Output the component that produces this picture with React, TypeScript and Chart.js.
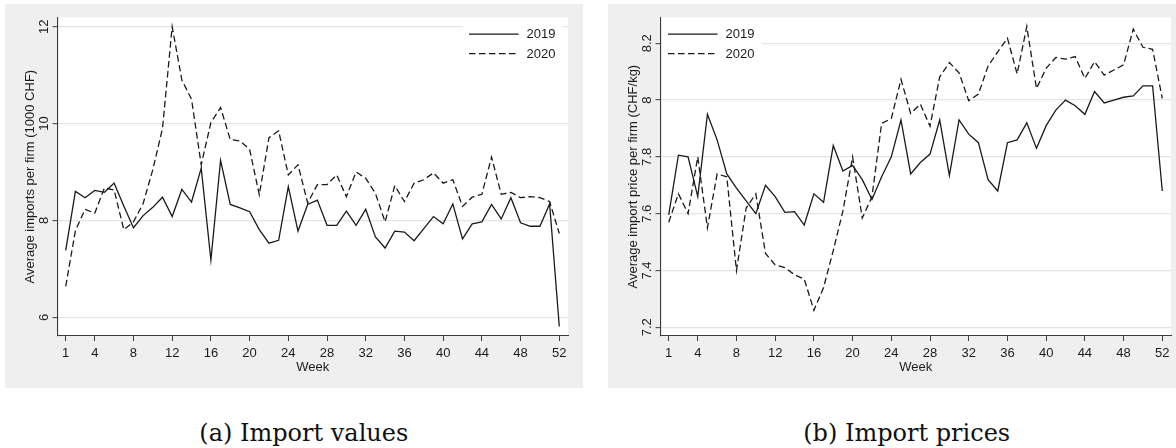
import React, { useEffect, useRef } from 'react';
import { Chart, registerables } from 'chart.js';

Chart.register(...registerables);

// ---------- data ----------
const weeks = [1, 2, 3, 4, 5, 6, 7, 8, 9, 10, 11, 12, 13, 14, 15, 16, 17, 18, 19, 20, 21, 22, 23, 24, 25, 26,
  27, 28, 29, 30, 31, 32, 33, 34, 35, 36, 37, 38, 39, 40, 41, 42, 43, 44, 45, 46, 47, 48, 49, 50, 51, 52];

const weekTicks = [1, 4, 8, 12, 16, 20, 24, 28, 32, 36, 40, 44, 48, 52];
const valueTicks = [6, 8, 10, 12];
const priceTicks = [7.2, 7.4, 7.6, 7.8, 8, 8.2];

const seriesLabels = ['2019', '2020'];

// (a) Average imports per firm (1000 CHF)
const values2019 = [7.38, 8.6, 8.47, 8.62, 8.58, 8.77, 8.3, 7.85, 8.1, 8.27, 8.48, 8.08, 8.64, 8.38, 9.08, 7.18,
  9.24, 8.33, 8.26, 8.18, 7.81, 7.53, 7.59, 8.7, 7.78, 8.33, 8.42, 7.9, 7.9, 8.19, 7.9, 8.23, 7.66, 7.43, 7.78,
  7.76, 7.58, 7.83, 8.08, 7.93, 8.34, 7.62, 7.93, 7.97, 8.33, 8.03, 8.47, 7.95, 7.88, 7.88, 8.34, 5.81];
const values2020 = [6.64, 7.79, 8.23, 8.15, 8.67, 8.63, 7.81, 7.97, 8.35, 9.05, 9.9, 12.0, 10.9, 10.5, 9.15, 10.02,
  10.33, 9.67, 9.64, 9.47, 8.53, 9.71, 9.85, 8.94, 9.15, 8.36, 8.74, 8.74, 8.94, 8.49, 9.0, 8.87, 8.56, 7.97, 8.72,
  8.39, 8.77, 8.84, 8.98, 8.77, 8.84, 8.29, 8.48, 8.54, 9.31, 8.54, 8.58, 8.47, 8.49, 8.47, 8.39, 7.73];

// (b) Average import price per firm (CHF/kg)
const prices2019 = [7.596, 7.806, 7.8, 7.66, 7.95, 7.86, 7.74, 7.69, 7.645, 7.6, 7.7, 7.66, 7.605, 7.607, 7.56, 7.67,
  7.64, 7.84, 7.75, 7.77, 7.72, 7.65, 7.73, 7.8, 7.93, 7.74, 7.78, 7.81, 7.93, 7.735, 7.93, 7.88, 7.85, 7.72, 7.68,
  7.85, 7.86, 7.92, 7.83, 7.91, 7.965, 8.0, 7.98, 7.95, 8.03, 7.99, 8.0, 8.01, 8.015, 8.05, 8.05, 7.68];
const prices2020 = [7.57, 7.67, 7.6, 7.8, 7.55, 7.74, 7.73, 7.4, 7.62, 7.67, 7.46, 7.42, 7.41, 7.385, 7.37, 7.26,
  7.34, 7.47, 7.61, 7.8, 7.585, 7.66, 7.918, 7.935, 8.073, 7.953, 7.986, 7.908, 8.082, 8.132, 8.096, 7.998, 8.021,
  8.12, 8.17, 8.218, 8.092, 8.259, 8.041, 8.112, 8.15, 8.144, 8.153, 8.076, 8.135, 8.088, 8.106, 8.124, 8.25,
  8.186, 8.179, 8.006];

// ---------- style ----------
const FONT = '"Liberation Sans", Arial, sans-serif';
const TEXT = '#1c1c1c';
const LINE = '#1a1a1a';
const AXIS = '#3a3a3a';
const GRID = '#e4e4e4';
const BG = '#efefef';
const PANEL_W = 578;
const PANEL_H = 384;

const panelPlugin = {
  id: 'panel',
  beforeDraw(chart: any) {
    const { ctx, chartArea: a } = chart;
    ctx.save();
    ctx.fillStyle = '#ffffff';
    ctx.fillRect(a.left, a.top, a.right - a.left, a.bottom - a.top);
    ctx.restore();
  },
  afterDraw(chart: any, _args: any, opts: any) {
    const { ctx, chartArea: a, scales } = chart;
    const xs = scales.x;
    const ys = scales.y;
    ctx.save();
    ctx.fillStyle = TEXT;
    ctx.font = `13px ${FONT}`;
    ctx.textAlign = 'center';
    ctx.textBaseline = 'alphabetic';
    xs.ticks.forEach((t: any) => {
      ctx.fillText(String(t.value), xs.getPixelForValue(t.value), a.bottom + 21.3);
    });
    ctx.fillText(opts.xTitle, (a.left + a.right) / 2, a.bottom + 34.7);
    ys.ticks.forEach((t: any) => {
      ctx.save();
      ctx.translate(a.left - 9.8, ys.getPixelForValue(t.value));
      ctx.rotate(-Math.PI / 2);
      ctx.fillText(String(t.value), 0, 0);
      ctx.restore();
    });
    ctx.save();
    ctx.translate(a.left - 24, (a.top + a.bottom) / 2);
    ctx.rotate(-Math.PI / 2);
    ctx.fillText(opts.yTitle, 0, 0);
    ctx.restore();

    // legend
    const boxLeft = opts.legendRight ? a.right - 105 : a.left + 1.5;
    ctx.fillStyle = '#ffffff';
    ctx.fillRect(boxLeft, a.top + 5, 100, 43);
    const lx0 = boxLeft + 6;
    const lx1 = boxLeft + 55.5;
    const tx = boxLeft + 63.5;
    const rows = [a.top + 16.8, a.top + 36.3];
    chart.data.datasets.forEach((ds: any, i: number) => {
      const y = rows[i];
      ctx.strokeStyle = LINE;
      ctx.lineWidth = 1.3;
      ctx.setLineDash(ds.borderDash || []);
      ctx.beginPath();
      ctx.moveTo(lx0, y);
      ctx.lineTo(lx1, y);
      ctx.stroke();
      ctx.setLineDash([]);
      ctx.fillStyle = TEXT;
      ctx.textAlign = 'left';
      ctx.textBaseline = 'middle';
      ctx.fillText(ds.label, tx, y + 0.5);
    });
    ctx.restore();
  },
};

type PanelProps = {
  left: number;
  s2019: number[];
  s2020: number[];
  yMin: number;
  yMax: number;
  yTicks: number[];
  yTitle: string;
  legendRight: boolean;
};

function Panel({ left, s2019, s2020, yMin, yMax, yTicks, yTitle, legendRight }: PanelProps) {
  const ref = useRef<HTMLCanvasElement>(null);
  useEffect(() => {
    const chart = new Chart(ref.current as HTMLCanvasElement, {
      type: 'line',
      data: {
        datasets: [
          {
            label: seriesLabels[0],
            data: weeks.map((w, i) => ({ x: w, y: s2019[i] })),
            borderColor: LINE,
            borderWidth: 1.3,
            pointRadius: 0,
            fill: false,
            tension: 0,
          },
          {
            label: seriesLabels[1],
            data: weeks.map((w, i) => ({ x: w, y: s2020[i] })),
            borderColor: LINE,
            borderWidth: 1.3,
            borderDash: [6.5, 3.5],
            pointRadius: 0,
            fill: false,
            tension: 0,
          },
        ],
      },
      options: {
        responsive: false,
        maintainAspectRatio: false,
        animation: false,
        events: [],
        layout: { padding: { left: 0, right: 15, top: 13.3, bottom: 0 } },
        plugins: {
          legend: { display: false },
          tooltip: { enabled: false },
          panel: { xTitle: 'Week', yTitle, legendRight },
        } as any,
        scales: {
          x: {
            type: 'linear',
            min: 0.15,
            max: 52.9,
            afterBuildTicks: (s: any) => {
              s.ticks = weekTicks.map((v) => ({ value: v }));
            },
            afterFit: (s: any) => {
              s.height = 52;
            },
            grid: { drawOnChartArea: false, drawTicks: true, tickLength: 5, tickColor: AXIS, tickWidth: 1 },
            border: { display: true, color: AXIS, width: 1.1 },
            ticks: { display: false },
          },
          y: {
            type: 'linear',
            min: yMin,
            max: yMax,
            afterBuildTicks: (s: any) => {
              s.ticks = yTicks.map((v) => ({ value: v }));
            },
            afterFit: (s: any) => {
              s.width = 52.5;
            },
            grid: { color: GRID, lineWidth: 1.3, drawTicks: true, tickLength: 5, tickColor: AXIS, tickWidth: 1 },
            border: { display: true, color: AXIS, width: 1.1 },
            ticks: { display: false },
          },
        },
      },
      plugins: [panelPlugin],
    } as any);
    return () => chart.destroy();
  }, []);
  return (
    <div style={{ position: 'absolute', left, top: 4, width: PANEL_W, height: PANEL_H, background: BG }}>
      <canvas ref={ref} width={PANEL_W} height={PANEL_H} style={{ display: 'block', width: PANEL_W, height: PANEL_H }} />
    </div>
  );
}

const captionStyle = (center: number): React.CSSProperties => ({
  position: 'absolute',
  left: center - 200,
  width: 400,
  top: 420.5,
  textAlign: 'center',
  fontFamily: '"DejaVu Serif", "Liberation Serif", serif',
  fontSize: 24,
  lineHeight: '24px',
  color: '#111',
  whiteSpace: 'nowrap',
});

export default function App() {
  return (
    <div style={{ position: 'fixed', left: 0, top: 0, width: 1176, height: 448, overflow: 'hidden', background: '#fff' }}>
      <Panel left={5} s2019={values2019} s2020={values2020} yMin={5.614} yMax={12.194} yTicks={valueTicks}
        yTitle="Average imports per firm (1000 CHF)" legendRight={true} />
      <Panel left={608} s2019={prices2019} s2020={prices2020} yMin={7.1694} yMax={8.2915} yTicks={priceTicks}
        yTitle="Average import price per firm (CHF/kg)" legendRight={false} />
      <div style={captionStyle(303.8)}>(a) Import values</div>
      <div style={captionStyle(906.7)}>(b) Import prices</div>
    </div>
  );
}
